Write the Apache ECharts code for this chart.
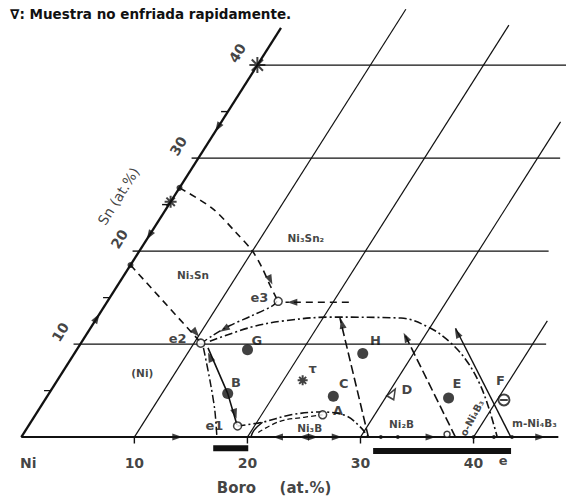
<!DOCTYPE html>
<html><head><meta charset="utf-8">
<script src="https://cdn.jsdelivr.net/npm/echarts@6/dist/echarts.min.js"></script>
<style>html,body{margin:0;padding:0;background:#fff}#c{width:566px;height:500px}</style>
</head><body><div id="c"></div>
<script>
// All compositions given as [Boro at.%, Sn at.%]
const titleText = '∇: Muestra no enfriada rapidamente.';
const bTicks = [10, 20, 30, 40];
const bTickLabels = ['10', '20', '30', '40'];
const snTicks = [10, 20, 30, 40];
const snTickLabels = ['10', '20', '30', '40'];
const snMinorTicks = [5, 10, 15, 20, 25, 30, 35];
const snGridLevels = [10, 20, 30, 40];
const snGridEndB = [41.2, 36.2, 32.0, 27.3];
const bGridLevels = [10, 20, 30, 40];
const bGridTopSn = [46, 44.3, 33.9, 12.5];
const snAxisTop = 44;
const bAxisEnd = 47.5;

const curveFromSn27 = [[0, 26.8], [4.05, 24.6], [7.5, 22.0], [10.0, 20.0], [11.8, 18.2], [13.5, 16.3], [15.0, 14.7]];
const curveFromSn18 = [[0, 18.5], [10.4, 10.3]];
const curveE3E2 = [[15.0, 14.6], [14.85, 14.1], [13.5, 13.0], [12.2, 12.0], [11.2, 10.9], [10.8, 10.3]];
const lineToE3 = [[21.4, 14.5], [15.8, 14.5]];
const bigCurve = [[11.3, 10.3], [14.1, 11.8], [16.7, 12.5], [20.6, 12.9], [26.9, 12.8], [30.1, 11.7], [32.6, 10.2], [35.0, 8.3], [37.4, 5.9], [39.5, 3.4], [42.1, 0]];
const lineE2E1 = [[11.5, 9.6], [15.8, 4.7], [18.4, 1.3]];
const lineE2Down = [[11.1, 9.6], [13.5, 6.1], [15.6, 2.9], [17.3, 0]];
const curveE1Ni2B = [[18.5, 1.2], [20.5, 1.6], [22.6, 2.4], [25.1, 2.7], [27.5, 2.3], [29.4, 1.1], [30.7, 0]];
const arcE1 = [[20.3, 0], [20.2, 0.75], [20.5, 1.6]];
const curveLow = [[20.7, 0.5], [22.0, 1.7], [24.0, 2.15], [25.4, 2.4]];
const lineC = [[30.7, 0], [21.5, 12.8]];
const lineE = [[38.4, 0], [28.0, 11.2]];
const lineF = [[43.3, 0], [32.3, 11.7]];
const bar1 = [[17.6, -1.2], [20.7, -1.2]];
const bar2 = [[31.9, -1.5], [44.1, -1.5]];

const solidSamples = [['G', 15.1, 9.4], ['H', 25.5, 9.0], ['B', 15.8, 4.7], ['C', 25.3, 4.4], ['E', 35.6, 4.2]];
const openPoints = [['A', 25.4, 2.4], ['e1', 18.5, 1.2], ['e2', 10.6, 10.1], ['e3', 15.1, 14.6]];
const slowSample = [['D', 30.4, 4.7]];
const sampleF = [['F', 40.6, 4.0]];
const stars = [[0, 40, 16], [0, 25.3, 12], [21.7, 6.1, 10]];
const axisDots = [[0, 26.8], [0, 18.5]];
const baseDots = [[31.8, 0], [33.3, 0], [40.0, 0], [41.8, 0], [43.4, 0]];
const baseOpen = [[37.5, 0.3]];
// arrows: [B, Sn, screen angle of arrow direction in degrees]
const arrows = [
  [0, 33.3, 238], [0, 21.7, 238], [0, 12.8, 58],
  [13.8, 0, 0], [22.7, 0, 180], [25.0, 0, 180], [25.8, 0, 0], [27.9, 0, 0], [36.2, 0, 0], [45.9, 0, 0],
  [13.2, 16.9, -65], [9.6, 11.2, -49], [11.9, 11.6, -148], [16.4, 14.5, 180],
  [12.2, 8.6, 113], [17.6, 2.5, -73], [22.0, 12.2, 103], [28.4, 10.75, 117], [32.7, 11.2, 117]
];
const pointLabels = [['G', 15.4, 10.4], ['H', 25.9, 10.4], ['B', 15.9, 5.9], ['C', 25.5, 5.8], ['A', 26.5, 2.9],
  ['D', 31.4, 5.16], ['E', 35.5, 5.8], ['F', 39.2, 6.1], ['τ', 21.9, 7.4], ['e1', 16.4, 1.3], ['e2', 8.3, 10.6], ['e3', 13.2, 15.05], ['e', 43.9, -2.47]];
const phaseLabels = [['Ni₃Sn₂', 14.0, 21.4], ['Ni₃Sn', 6.1, 17.4], ['(Ni)', 7.1, 6.9], ['Ni₃B', 25.0, 0.97], ['Ni₂B', 32.9, 1.4], ['m-Ni₄B₃', 44.6, 1.5]];
const rotatedPhaseLabels = [['o-Ni₄B₃', 38.8, 2.04]];
const axisNames = [['Boro', 21.9, -5.5], ['(at.%)', 28.0, -5.5]];
const snAxisName = ['Sn (at.%)', 25.8];

// oblique (ternary-style) coordinate: horizontal = B + k*Sn
const K = 0.522;
const P = (b, s) => [b + K * s, s];
const INK = '#111';
const ROT = 58;
// label offsets are applied in the rotated frame; convert a screen offset
function rotOffset(dx, dy, deg) {
  const t = deg * Math.PI / 180, c = Math.cos(t), s = Math.sin(t);
  return [dx * c - dy * s, dx * s + dy * c];
}
const series = [];
function addLine(pts, style, smooth) {
  series.push({
    type: 'line', data: pts.map(p => P(p[0], p[1])), symbol: 'none', smooth: smooth || false,
    lineStyle: Object.assign({ color: INK, width: 1.3 }, style), silent: true, z: 2, animation: false
  });
}
snGridLevels.forEach((s, i) => addLine([[0, s], [snGridEndB[i], s]], { width: 1.4 }));
bGridLevels.forEach((b, i) => addLine([[b, 0], [b, bGridTopSn[i]]], { width: 1.2 }));
addLine([[0, 0], [0, snAxisTop]], { width: 2.3 });
addLine([[0, 0], [bAxisEnd, 0]], { width: 2 });
snMinorTicks.forEach(s => addLine([[-0.6, s], [0, s]], { width: 1.4 }));
bTicks.forEach(b => addLine([[b, 0], [b + K * 0.7, -0.7]], { width: 1.4 }));

const dash = [7, 5];
const dashDot = [8, 3, 2, 3];
addLine(curveFromSn27, { type: dash, width: 1.6 }, 0.3);
addLine(curveFromSn18, { type: dash, width: 1.6 });
addLine(curveE3E2, { type: dashDot, width: 1.5 }, 0.3);
addLine(lineToE3, { type: dash, width: 1.6 });
addLine(bigCurve, { type: dashDot, width: 1.6 }, 0.35);
addLine(lineE2E1, { width: 1.6 });
addLine(lineE2Down, { type: dashDot, width: 1.5 }, 0.3);
addLine(curveE1Ni2B, { type: dashDot, width: 1.6 }, 0.35);
addLine(arcE1, { width: 1.5 }, 0.4);
addLine(curveLow, { type: [5, 3], width: 1.3 }, 0.4);
addLine(lineC, { type: [9, 4], width: 1.6 });
addLine(lineE, { type: [9, 4], width: 1.6 });
addLine(lineF, { width: 1.4 });
addLine(bar1, { width: 6 });
addLine(bar2, { width: 6 });

function addScatter(items, opts) {
  series.push(Object.assign({ type: 'scatter', silent: true, animation: false, z: 4 }, opts, {
    data: items
  }));
}
addScatter(solidSamples.map(d => ({ name: d[0], value: P(d[1], d[2]) })), { symbol: 'circle', symbolSize: 11, itemStyle: { color: INK } });
addScatter(openPoints.map(d => ({ name: d[0], value: P(d[1], d[2]) })), { symbol: 'circle', symbolSize: 8, itemStyle: { color: '#fff', borderColor: INK, borderWidth: 1.5 } });
addScatter(slowSample.map(d => ({ name: d[0], value: P(d[1], d[2]) })), { symbol: 'triangle', symbolSize: [8, 10], symbolRotate: -30, itemStyle: { color: '#fff', borderColor: INK, borderWidth: 1.6 } });
addScatter(sampleF.map(d => ({ name: d[0], value: P(d[1], d[2]) })), { symbol: 'path://M0,5 A5,5 0 1,1 10,5 A5,5 0 1,1 0,5 Z M1.5,5 L8.5,5', symbolSize: 11, itemStyle: { color: '#fff', borderColor: INK, borderWidth: 2 } });
addScatter(stars.map(d => ({ value: P(d[0], d[1]), symbolSize: d[2] })), { symbol: 'path://M5,0 L5,10 M0,5 L10,5 M1.5,1.5 L8.5,8.5 M8.5,1.5 L1.5,8.5', itemStyle: { color: 'none', borderColor: INK, borderWidth: 2 } });
addScatter(axisDots.map(d => ({ value: P(d[0], d[1]) })), { symbol: 'circle', symbolSize: 6, itemStyle: { color: INK } });
addScatter(baseDots.map(d => ({ value: P(d[0], d[1]) })), { symbol: 'circle', symbolSize: 4, itemStyle: { color: INK } });
addScatter(baseOpen.map(d => ({ value: P(d[0], d[1]) })), { symbol: 'circle', symbolSize: 6, itemStyle: { color: '#fff', borderColor: INK, borderWidth: 1.5 } });
addScatter(arrows.map(d => ({ value: P(d[0], d[1]), symbolRotate: d[2] - 90 })), { symbol: 'triangle', symbolSize: [7, 10], itemStyle: { color: INK }, z: 5 });

function addText(items, label) {
  series.push({
    type: 'scatter', silent: true, animation: false, z: 6, symbolSize: 1, itemStyle: { color: 'rgba(0,0,0,0)' },
    label: Object.assign({ show: true, position: 'inside', formatter: '{b}', color: INK, fontFamily: 'DejaVu Sans', fontWeight: 'bold' }, label),
    data: items
  });
}
addText(bTicks.map((b, i) => ({ name: bTickLabels[i], value: P(b, 0) })).concat([{ name: 'Ni', value: P(0, 0), label: { offset: [7, 26] } }]), { fontSize: 14, offset: [0, 26] });
addText(snTicks.map((s, i) => ({ name: snTickLabels[i], value: P(0, s) })), { fontSize: 14, rotate: ROT, offset: rotOffset(-20, -12, ROT) });
addText([{ name: snAxisName[0], value: P(0, snAxisName[1]) }], { fontSize: 14, fontWeight: 500, rotate: ROT, offset: rotOffset(-55, -1, ROT) });
addText(axisNames.map(d => ({ name: d[0], value: P(d[1], d[2]) })), { fontSize: 15 });
addText(pointLabels.map(d => ({ name: d[0], value: P(d[1], d[2]) })), { fontSize: 13 });
addText(phaseLabels.map(d => ({ name: d[0], value: P(d[1], d[2]) })), { fontSize: 10.5 });
addText(rotatedPhaseLabels.map(d => ({ name: d[0], value: P(d[1], d[2]) })), { fontSize: 10, rotate: 62 });

const chart = echarts.init(document.getElementById('c'), null, { renderer: 'svg' });
chart.setOption({
  backgroundColor: '#fff',
  animation: false,
  title: { text: titleText, left: 5, top: 2, textStyle: { fontSize: 13.5, fontWeight: 'bold', fontFamily: 'DejaVu Sans', color: INK } },
  grid: { left: 10, top: 0, width: 554, height: 492.9, containLabel: false },
  xAxis: { type: 'value', min: -1, max: 48, show: false },
  yAxis: { type: 'value', min: -6, max: 47, show: false },
  series: series
});
</script></body></html>
